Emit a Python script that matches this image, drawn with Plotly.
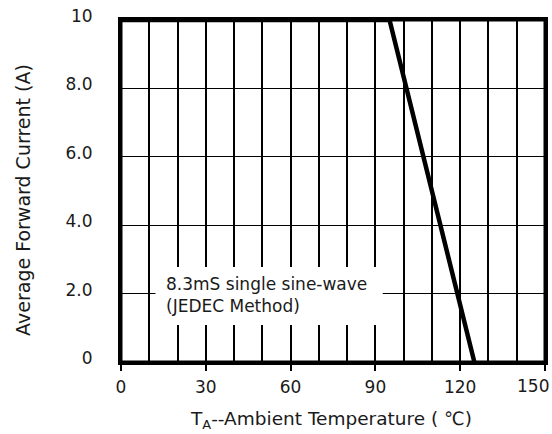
import plotly.graph_objects as go

# Data
temp_c = [0, 95, 125]
current_a = [10, 10, 0]
x_tick_vals = [0, 30, 60, 90, 120, 150]
x_tick_text = ["0", "30", "60", "90", "120", "150"]
y_tick_vals = [0, 2, 4, 6, 8, 10]
y_tick_text = ["0", "2.0", "4.0", "6.0", "8.0", "10"]
note_text = "8.3mS single sine-wave<br>(JEDEC Method)"
x_title = "T<sub>A</sub>--Ambient Temperature ( \u2103)"
y_title = "Average Forward Current (A)"

FONT = "DejaVu Sans, Verdana, sans-serif"
INK = "#1a1a1a"

fig = go.Figure()
fig.add_trace(go.Scatter(
    x=temp_c, y=current_a, mode="lines",
    line=dict(color="black", width=4.5),
    hoverinfo="skip", showlegend=False,
))

# white box behind the note
fig.add_shape(type="rect", xref="x", yref="y",
              x0=12.2, x1=92.6, y0=1.08, y1=2.78,
              fillcolor="white", line=dict(width=0), layer="above")
fig.add_annotation(x=15.3, y=1.96, xref="x", yref="y", text=note_text,
                   showarrow=False, xanchor="left", yanchor="middle", align="left",
                   font=dict(family=FONT, size=17, color=INK))

# plot frame
fig.add_shape(type="rect", xref="paper", yref="paper", x0=0, x1=1, y0=0, y1=1,
              line=dict(color="black", width=3), fillcolor="rgba(0,0,0,0)", layer="above")

# axis titles
fig.add_annotation(x=0, y=0.474, xref="paper", yref="paper", xshift=-98,
                   text=y_title, textangle=-90, showarrow=False,
                   xanchor="center", yanchor="middle",
                   font=dict(family=FONT, size=19, color=INK))
fig.add_annotation(x=0.5, y=0, xref="paper", yref="paper", xshift=-2, yshift=-58,
                   text=x_title, showarrow=False,
                   xanchor="center", yanchor="middle",
                   font=dict(family=FONT, size=18.5, color=INK))

# last x tick label is pulled inside the window so it is not clipped
axis_tick_text = x_tick_text[:-1] + [""]
fig.add_annotation(x=x_tick_vals[-1], y=0, xref="x", yref="paper", xshift=6, yshift=-24,
                   text=x_tick_text[-1], showarrow=False,
                   xanchor="right", yanchor="middle",
                   font=dict(family=FONT, size=17, color=INK))

fig.update_layout(
    width=552, height=434,
    margin=dict(l=121, r=7, t=20, b=72),
    paper_bgcolor="white", plot_bgcolor="white",
    font=dict(family=FONT, size=17, color=INK),
    xaxis=dict(
        range=[0, 150], tickvals=x_tick_vals, ticktext=axis_tick_text,
        ticks="outside", ticklen=6, tickwidth=1.5, tickcolor="black",
        showgrid=True, gridcolor="black", gridwidth=1.5,
        minor=dict(dtick=10, showgrid=True, gridcolor="black", gridwidth=1.5, ticks=""),
        showline=True, linecolor="black", linewidth=3, mirror=True,
        zeroline=False, ticklabelstandoff=2,
        automargin=False,
    ),
    yaxis=dict(
        range=[0, 10], tickvals=y_tick_vals, ticktext=y_tick_text,
        ticks="", showgrid=True, gridcolor="black", gridwidth=1,
        showline=True, linecolor="black", linewidth=3, mirror=True,
        zeroline=False, ticklabelstandoff=22, ticklabelshift=-4,
        automargin=False,
    ),
)

# remove the default page margin so the figure fills the window exactly
fig.write_html(
    "out.html",
    config={"displayModeBar": False},
    post_script="document.body.style.margin='0';document.body.style.overflow='hidden';",
)
